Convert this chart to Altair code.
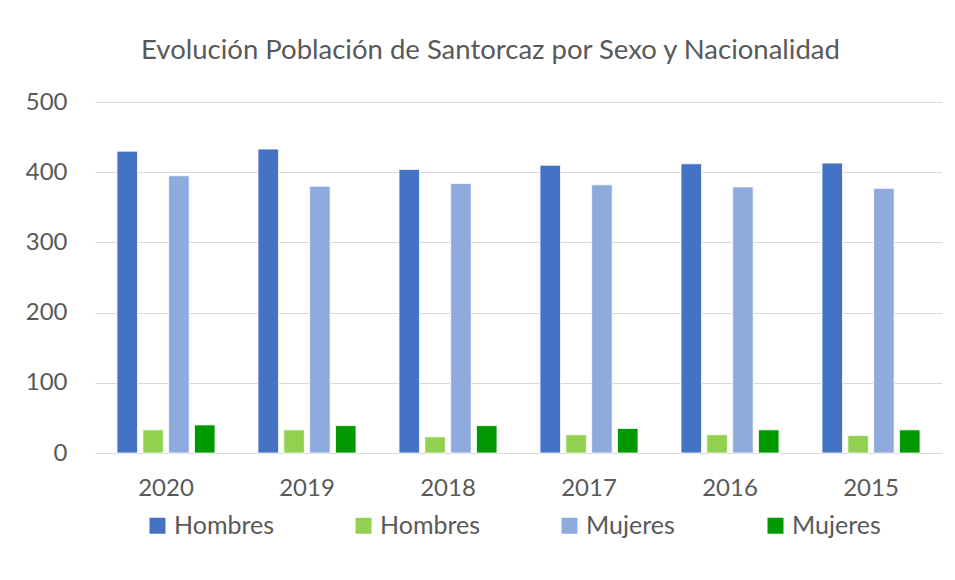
import altair as alt
import pandas as pd

years = ["2020", "2019", "2018", "2017", "2016", "2015"]
series_keys = ["Hombres_es", "Hombres_ex", "Mujeres_es", "Mujeres_ex"]
series_labels = ["Hombres", "Hombres", "Mujeres", "Mujeres"]
colors = ["#4472C4", "#92D050", "#8FAADC", "#009900"]

hombres_esp = [430, 433, 404, 410, 412, 413]
hombres_ext = [33, 33, 23, 26, 26, 25]
mujeres_esp = [395, 380, 384, 382, 379, 377]
mujeres_ext = [40, 39, 39, 35, 33, 33]

values = [hombres_esp, hombres_ext, mujeres_esp, mujeres_ext]
rows = []
for key, lab, vals in zip(series_keys, series_labels, values):
    for y, v in zip(years, vals):
        rows.append({"year": y, "serie": key, "label": lab, "value": v})
df = pd.DataFrame(rows)

FONT = "Lato"
GRAY = "#595959"

chart = alt.Chart(df).mark_bar(stroke="white", strokeWidth=0.8).encode(
    x=alt.X("year:N", sort=years, title=None,
            scale=alt.Scale(paddingInner=0.305, paddingOuter=0.156),
            axis=alt.Axis(labelAngle=0, domain=False, ticks=False, labelPadding=23,
                          labelFontSize=24, labelColor=GRAY, labelFont=FONT)),
    xOffset=alt.XOffset("serie:N", sort=series_keys,
                        scale=alt.Scale(paddingInner=0.205, paddingOuter=0)),
    y=alt.Y("value:Q", title=None,
            scale=alt.Scale(domain=[0, 500]),
            axis=alt.Axis(values=[0, 100, 200, 300, 400, 500], domain=False, ticks=False,
                          labelPadding=28, labelFontSize=24, labelColor=GRAY, labelFont=FONT,
                          gridColor="#D9D9D9", gridWidth=1)),
    color=alt.Color("serie:N", sort=series_keys,
                    scale=alt.Scale(domain=series_keys, range=colors),
                    legend=alt.Legend(title=None, orient="none", direction="horizontal",
                                      columns=4, gridAlign="all", legendX=50, legendY=411,
                                      symbolType="square", symbolSize=256, symbolStrokeWidth=0,
                                      labelFontSize=25, labelColor=GRAY, labelFont=FONT,
                                      labelOffset=4, columnPadding=76, padding=0,
                                      labelExpr="split(datum.label, '_')[0]")),
).properties(
    width=847,
    height=351,
    title=alt.TitleParams("Evolución Población de Santorcaz por Sexo y Nacionalidad",
                          fontSize=27.5, color=GRAY, font=FONT, fontWeight="normal",
                          anchor="middle", dx=-28, offset=26),
    padding={"left": 17, "top": 28, "right": 5, "bottom": 5},
).configure_view(stroke=None)

chart.save("out.html", embed_options={"renderer": "svg", "actions": False})
